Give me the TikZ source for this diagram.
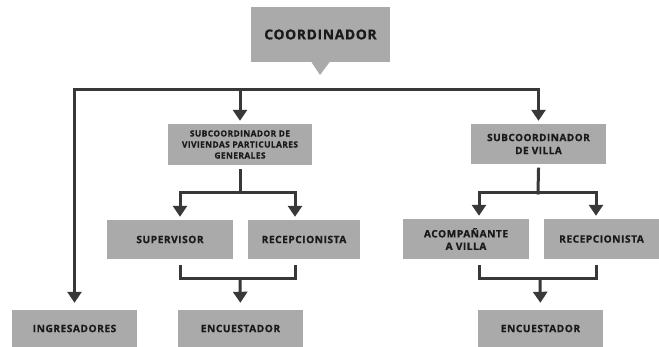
\documentclass[tikz,border=0pt]{standalone}
\usepackage{fontspec}
\setmainfont{Open Sans}[LetterSpace=5,BoldFeatures={FakeBold=0.8}]
\usetikzlibrary{arrows.meta}
\definecolor{boxgray}{HTML}{AAAAAA}
\definecolor{linegray}{HTML}{383838}
\definecolor{textgray}{HTML}{1A1A1A}
\tikzset{
  box/.style={rectangle, fill=boxgray, inner sep=0pt, align=center, text=textgray, font=\bfseries\fontsize{10.2}{12.5}\selectfont},
  conn/.style={draw=linegray, line width=3pt, line cap=rect},
  arr/.style={conn, -{Triangle[length=11pt,width=14pt]}, shorten >=3pt},
  arrlow/.style={arr, shorten >=7pt}
}
\begin{document}
\begin{tikzpicture}[x=1pt,y=-1pt]
\useasboundingbox (0,0) rectangle (659,347);
% nodes
\node[box, minimum width=139pt, minimum height=55pt, font=\bfseries\fontsize{13.8}{16}\selectfont] (coord) at (320.5,34.5) {COORDINADOR};
\fill[boxgray] ([xshift=-9pt]coord.south) -- (320,75) -- ([xshift=9pt]coord.south) -- cycle;
\node[box, minimum width=144pt, minimum height=41pt, font=\bfseries\fontsize{8.4}{11}\selectfont] (sub1) at (240,144.5) {SUBCOORDINADOR DE\\VIVIENDAS PARTICULARES\\GENERALES};
\node[box, minimum width=135pt, minimum height=40pt, font=\bfseries\fontsize{10}{13}\selectfont] (sub2) at (538.5,144) {SUBCOORDINADOR\\DE VILLA};
\node[box, minimum width=126pt, minimum height=39pt] (sup) at (170,239.5) {SUPERVISOR};
\node[box, minimum width=112pt, minimum height=39pt] (rec1) at (304,239.5) {RECEPCIONISTA};
\node[box, minimum width=126pt, minimum height=40pt] (aco) at (466,239) {ACOMPAÑANTE\\A VILLA};
\node[box, minimum width=115pt, minimum height=40pt] (rec2) at (601.5,239) {RECEPCIONISTA};
\node[box, minimum width=125pt, minimum height=37pt] (ing) at (74.5,328.5) {INGRESADORES};
\node[box, minimum width=125pt, minimum height=37pt] (enc1) at (240.5,328.5) {ENCUESTADOR};
\node[box, minimum width=125pt, minimum height=37pt] (enc2) at (540.5,328.5) {ENCUESTADOR};
% coordinates
\coordinate (bus) at (320,90);
\coordinate (b1) at (240,193);
\coordinate (b2) at (538,193);
\coordinate (m1) at (240,279);
\coordinate (m2) at (540,279);
\coordinate (supin) at ([xshift=10pt]sup.north);
\coordinate (rec1in) at ([xshift=-9pt]rec1.north);
\coordinate (acoin) at ([xshift=13pt]aco.north);
\coordinate (rec2in) at ([xshift=-5.5pt]rec2.north);
\coordinate (supout) at ([xshift=10pt,yshift=-7pt]sup.south);
\coordinate (rec1out) at ([xshift=-9pt,yshift=-7pt]rec1.south);
\coordinate (acoout) at ([xshift=13pt,yshift=-7pt]aco.south);
\coordinate (rec2out) at ([xshift=-5.5pt,yshift=-7pt]rec2.south);
% main bus
\draw[conn] (ing.north |- bus) -- (sub2.north |- bus);
\draw[arrlow] (ing.north |- bus) -- (ing.north);
\draw[arr] (sub1.north |- bus) -- (sub1.north);
\draw[arr] (sub2.north |- bus) -- (sub2.north);
% left branch
\draw[conn] ([yshift=-5pt]sub1.south) -- (b1);
\draw[conn] (supin |- b1) -- (rec1in |- b1);
\draw[arr] (supin |- b1) -- (supin);
\draw[arr] (rec1in |- b1) -- (rec1in);
% right branch
\draw[conn] ([yshift=-5pt]sub2.south) -- (b2);
\draw[conn] (acoin |- b2) -- (rec2in |- b2);
\draw[arr] (acoin |- b2) -- (acoin);
\draw[arr] (rec2in |- b2) -- (rec2in);
% lower brackets
\draw[conn] (supout) |- (m1) -| (rec1out);
\draw[arrlow] (m1) -- (enc1.north);
\draw[conn] (acoout) |- (m2) -| (rec2out);
\draw[arrlow] (m2) -- (enc2.north);
\end{tikzpicture}
\end{document}
